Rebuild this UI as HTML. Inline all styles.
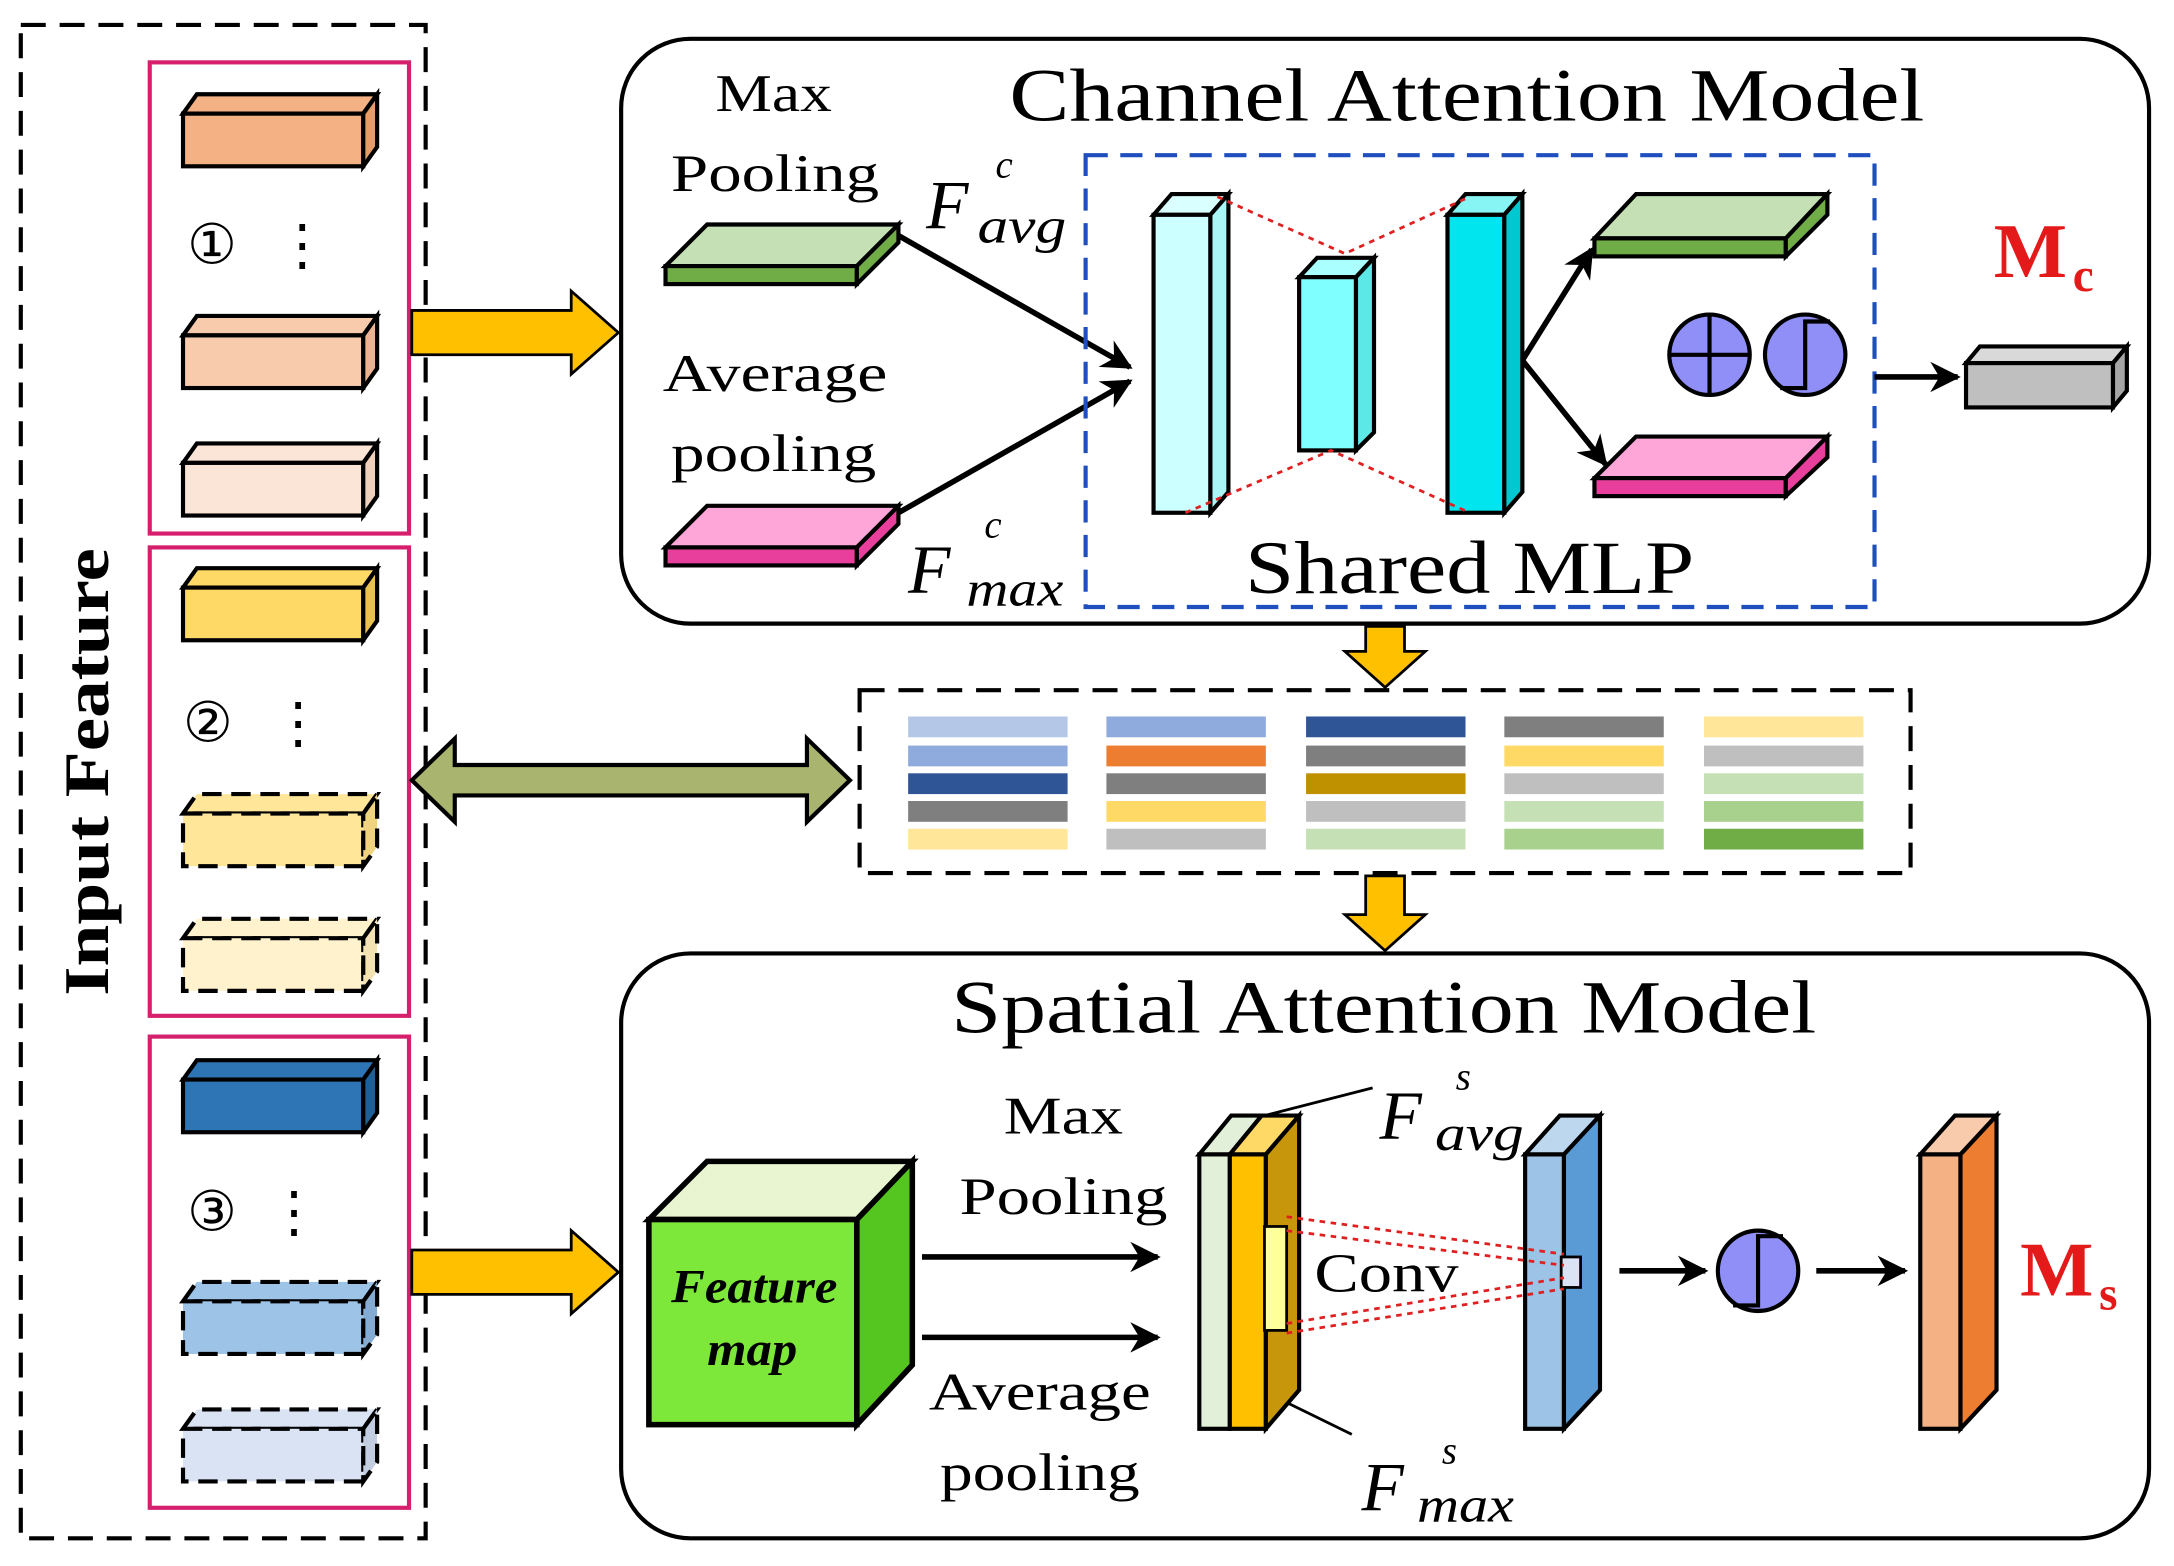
<!DOCTYPE html>
<html><head><meta charset="utf-8"><style>html,body{margin:0;padding:0;background:#fff}svg{display:block}text{font-family:"Liberation Serif","Times New Roman",serif}</style></head><body>
<svg width="2174" height="1566" viewBox="0 0 1568 1130" preserveAspectRatio="none" xmlns="http://www.w3.org/2000/svg">
<defs>
<marker id="ah2" viewBox="0 0 10 10" markerWidth="22" markerHeight="22" refX="9" refY="5" orient="auto" markerUnits="userSpaceOnUse"><path d="M0,0 L10,5 L0,10 L3,5 z" fill="#000"/></marker>
</defs>
<rect width="1568" height="1130" fill="#fff"/>
<rect x="15" y="18" width="292" height="1092" fill="none" stroke="#000" stroke-width="3" stroke-dasharray="18,10"/>
<text transform="translate(78,557) rotate(-90)" text-anchor="middle" font-size="46" font-weight="bold" textLength="323" lengthAdjust="spacingAndGlyphs">Input Feature</text>
<g fill="none" stroke="#d6206e" stroke-width="3">
<rect x="108" y="45" width="187" height="340"/><rect x="108" y="395" width="187" height="338"/><rect x="108" y="748" width="187" height="340"/>
</g>
<g stroke="#000" stroke-width="3">
<polygon points="132,82 142,68 272,68 262,82" fill="#f4b183"/><rect x="132" y="82" width="130" height="38" fill="#f4b183"/><polygon points="262,82 272,68 272,106 262,120" fill="#e59b6a"/>
<polygon points="132,242 142,228 272,228 262,242" fill="#f8cbad"/><rect x="132" y="242" width="130" height="38" fill="#f8cbad"/><polygon points="262,242 272,228 272,266 262,280" fill="#eab493"/>
<polygon points="132,334 142,320 272,320 262,334" fill="#fbe5d6"/><rect x="132" y="334" width="130" height="38" fill="#fbe5d6"/><polygon points="262,334 272,320 272,358 262,372" fill="#efd0bd"/>
<polygon points="132,424 142,410 272,410 262,424" fill="#ffd966"/><rect x="132" y="424" width="130" height="38" fill="#ffd966"/><polygon points="262,424 272,410 272,448 262,462" fill="#e8c14f"/>
<g stroke-dasharray="14,7"><polygon points="132,587 142,573 272,573 262,587" fill="#ffe699"/><rect x="132" y="587" width="130" height="38" fill="#ffe699"/><polygon points="262,587 272,573 272,611 262,625" fill="#f0d37e"/>
<polygon points="132,677 142,663 272,663 262,677" fill="#fff2cc"/><rect x="132" y="677" width="130" height="38" fill="#fff2cc"/><polygon points="262,677 272,663 272,701 262,715" fill="#f3e2b2"/></g>
<polygon points="132,779 142,765 272,765 262,779" fill="#2e75b6"/><rect x="132" y="779" width="130" height="38" fill="#2e75b6"/><polygon points="262,779 272,765 272,803 262,817" fill="#1f5f98"/>
<g stroke-dasharray="14,7"><polygon points="132,939 142,925 272,925 262,939" fill="#9dc3e6"/><rect x="132" y="939" width="130" height="38" fill="#9dc3e6"/><polygon points="262,939 272,925 272,963 262,977" fill="#84acd2"/>
<polygon points="132,1031 142,1017 272,1017 262,1031" fill="#dae3f3"/><rect x="132" y="1031" width="130" height="38" fill="#dae3f3"/><polygon points="262,1031 272,1017 272,1055 262,1069" fill="#c2cde2"/></g>
</g>
<text x="135" y="190" font-size="40">①</text><text x="198" y="190" font-size="40">⋮</text>
<text x="132" y="535" font-size="40">②</text><text x="195" y="535" font-size="40">⋮</text>
<text x="135" y="888" font-size="40">③</text><text x="192" y="888" font-size="40">⋮</text>
<g fill="#ffc000" stroke="#000" stroke-width="2">
<polygon points="297,224 412,224 412,210 446,240 412,270 412,256 297,256"/>
<polygon points="297,902 412,902 412,888 446,918 412,948 412,934 297,934"/>
<polygon points="985,452 1013,452 1013,470 1028,470 999,496 970,470 985,470"/>
<polygon points="985,632 1013,632 1013,660 1028,660 999,686 970,660 985,660"/>
</g>
<polygon points="297,563 328,533 328,552 582,552 582,533 613,563 582,593 582,574 328,574 328,593" fill="#a9b56e" stroke="#000" stroke-width="3"/>
<rect x="448" y="28" width="1102" height="422" rx="50" fill="none" stroke="#000" stroke-width="3"/>
<text x="728" y="87" font-size="54" textLength="660" lengthAdjust="spacingAndGlyphs">Channel Attention Model</text>
<text x="516" y="80" font-size="38" textLength="84" lengthAdjust="spacingAndGlyphs">Max</text>
<text x="484" y="138" font-size="38" textLength="150" lengthAdjust="spacingAndGlyphs">Pooling</text>
<text x="478" y="282" font-size="38" textLength="162" lengthAdjust="spacingAndGlyphs">Average</text>
<text x="484" y="340" font-size="38" textLength="148" lengthAdjust="spacingAndGlyphs">pooling</text>
<g stroke="#000" stroke-width="3">
<polygon points="480,192 510,162 648,162 618,192" fill="#c5e0b4"/>
<rect x="480" y="192" width="138" height="13" fill="#70ad47"/>
<polygon points="618,192 648,162 648,175 618,205" fill="#70ad47"/>
<polygon points="480,395 510,365 648,365 618,395" fill="#ffa6d9"/>
<rect x="480" y="395" width="138" height="13" fill="#e83e9c"/>
<polygon points="618,395 648,365 648,378 618,408" fill="#e83e9c"/>
</g>
<text x="668" y="165" font-size="50" font-style="italic">F</text><text x="718" y="128" font-size="28" font-style="italic">c</text><text x="705" y="175" font-size="36" font-style="italic" textLength="64" lengthAdjust="spacingAndGlyphs">avg</text>
<text x="655" y="428" font-size="50" font-style="italic">F</text><text x="710" y="388" font-size="28" font-style="italic">c</text><text x="697" y="437" font-size="36" font-style="italic" textLength="70" lengthAdjust="spacingAndGlyphs">max</text>
<line x1="648" y1="170" x2="815" y2="265" stroke="#000" stroke-width="4" marker-end="url(#ah2)"/>
<line x1="648" y1="370" x2="815" y2="275" stroke="#000" stroke-width="4" marker-end="url(#ah2)"/>
<rect x="783" y="112" width="569" height="326" fill="none" stroke="#1f4fbf" stroke-width="3" stroke-dasharray="16,9"/>
<text x="898" y="428" font-size="54" textLength="324" lengthAdjust="spacingAndGlyphs">Shared MLP</text>
<g stroke="#000" stroke-width="3">
<polygon points="832,155 845,140 886,140 873,155" fill="#d9ffff"/><rect x="832" y="155" width="41" height="215" fill="#ccffff"/><polygon points="873,155 886,140 886,355 873,370" fill="#aaf5f5"/>
<polygon points="937,200 950,186 991,186 978,200" fill="#aaffff"/><rect x="937" y="200" width="41" height="125" fill="#7fffff"/><polygon points="978,200 991,186 991,312 978,325" fill="#5de8e8"/>
<polygon points="1044,155 1057,140 1098,140 1085,155" fill="#88f5f5"/><rect x="1044" y="155" width="41" height="215" fill="#00e5ee"/><polygon points="1085,155 1098,140 1098,355 1085,370" fill="#00c8d0"/>
</g>
<g stroke="#e02020" stroke-width="2" stroke-dasharray="4,4" fill="none">
<polyline points="878,142 970,183 1060,142"/><polyline points="855,370 960,325 1060,370"/>
</g>
<line x1="1098" y1="260" x2="1148" y2="180" stroke="#000" stroke-width="4" marker-end="url(#ah2)"/>
<line x1="1098" y1="260" x2="1158" y2="335" stroke="#000" stroke-width="4" marker-end="url(#ah2)"/>
<g stroke="#000" stroke-width="3">
<polygon points="1150,172 1180,140 1318,140 1288,172" fill="#c5e0b4"/><rect x="1150" y="172" width="138" height="13" fill="#70ad47"/><polygon points="1288,172 1318,140 1318,155 1288,185" fill="#70ad47"/>
<polygon points="1150,345 1180,315 1318,315 1288,345" fill="#ffa6d9"/><rect x="1150" y="345" width="138" height="13" fill="#e83e9c"/><polygon points="1288,345 1318,315 1318,330 1288,358" fill="#e83e9c"/>
<circle cx="1233" cy="256" r="29" fill="#8f8ff7"/><line x1="1204" y1="256" x2="1262" y2="256"/><line x1="1233" y1="227" x2="1233" y2="285"/>
<circle cx="1302" cy="256" r="29" fill="#8f8ff7"/><polyline points="1284,280 1302,280 1302,232 1320,232" fill="none"/>
</g>
<line x1="1352" y1="272" x2="1412" y2="272" stroke="#000" stroke-width="4" marker-end="url(#ah2)"/>
<g stroke="#000" stroke-width="3"><polygon points="1418,262 1428,250 1534,250 1524,262" fill="#d9d9d9"/><rect x="1418" y="262" width="106" height="32" fill="#bfbfbf"/><polygon points="1524,262 1534,250 1534,282 1524,294" fill="#a6a6a6"/></g>
<text x="1438" y="200" font-size="56" font-weight="bold" fill="#e41a1a">M</text><text x="1495" y="210" font-size="34" font-weight="bold" fill="#e41a1a">c</text>
<rect x="620" y="498" width="758" height="132" fill="none" stroke="#000" stroke-width="3" stroke-dasharray="18,10"/>
<g>
<rect x="655" y="517" width="115" height="15" fill="#b4c7e7"/><rect x="655" y="538" width="115" height="15" fill="#8faadc"/><rect x="655" y="558" width="115" height="15" fill="#2f5597"/><rect x="655" y="578" width="115" height="15" fill="#7f7f7f"/><rect x="655" y="598" width="115" height="15" fill="#ffe699"/>
<rect x="798" y="517" width="115" height="15" fill="#8faadc"/><rect x="798" y="538" width="115" height="15" fill="#ed7d31"/><rect x="798" y="558" width="115" height="15" fill="#7f7f7f"/><rect x="798" y="578" width="115" height="15" fill="#ffd966"/><rect x="798" y="598" width="115" height="15" fill="#bfbfbf"/>
<rect x="942" y="517" width="115" height="15" fill="#2f5597"/><rect x="942" y="538" width="115" height="15" fill="#7f7f7f"/><rect x="942" y="558" width="115" height="15" fill="#bf9000"/><rect x="942" y="578" width="115" height="15" fill="#bfbfbf"/><rect x="942" y="598" width="115" height="15" fill="#c5e0b4"/>
<rect x="1085" y="517" width="115" height="15" fill="#7f7f7f"/><rect x="1085" y="538" width="115" height="15" fill="#ffd966"/><rect x="1085" y="558" width="115" height="15" fill="#bfbfbf"/><rect x="1085" y="578" width="115" height="15" fill="#c5e0b4"/><rect x="1085" y="598" width="115" height="15" fill="#a9d18e"/>
<rect x="1229" y="517" width="115" height="15" fill="#ffe699"/><rect x="1229" y="538" width="115" height="15" fill="#bfbfbf"/><rect x="1229" y="558" width="115" height="15" fill="#c5e0b4"/><rect x="1229" y="578" width="115" height="15" fill="#a9d18e"/><rect x="1229" y="598" width="115" height="15" fill="#70ad47"/>
</g>
<rect x="448" y="688" width="1102" height="422" rx="50" fill="none" stroke="#000" stroke-width="3"/>
<text x="686" y="745" font-size="54" textLength="624" lengthAdjust="spacingAndGlyphs">Spatial Attention Model</text>
<g stroke="#000" stroke-width="4">
<polygon points="468,880 510,838 658,838 618,880" fill="#e8f5d0"/>
<rect x="468" y="880" width="150" height="148" fill="#7ee83a"/>
<polygon points="618,880 658,838 658,985 618,1028" fill="#55c520"/>
</g>
<text x="484" y="940" font-size="34" font-weight="bold" font-style="italic" textLength="120" lengthAdjust="spacingAndGlyphs">Feature</text>
<text x="510" y="985" font-size="34" font-weight="bold" font-style="italic" textLength="65" lengthAdjust="spacingAndGlyphs">map</text>
<text x="724" y="818" font-size="38" textLength="86" lengthAdjust="spacingAndGlyphs">Max</text>
<text x="692" y="876" font-size="38" textLength="150" lengthAdjust="spacingAndGlyphs">Pooling</text>
<text x="670" y="1017" font-size="38" textLength="160" lengthAdjust="spacingAndGlyphs">Average</text>
<text x="678" y="1075" font-size="38" textLength="144" lengthAdjust="spacingAndGlyphs">pooling</text>
<line x1="665" y1="907" x2="835" y2="907" stroke="#000" stroke-width="4" marker-end="url(#ah2)"/>
<line x1="665" y1="965" x2="835" y2="965" stroke="#000" stroke-width="4" marker-end="url(#ah2)"/>
<g stroke="#000" stroke-width="3">
<polygon points="865,833 888,805 910,805 887,833" fill="#e2f0d9"/><rect x="865" y="833" width="22" height="198" fill="#e2f0d9"/>
<polygon points="887,833 910,805 937,805 913,833" fill="#ffd966"/><rect x="887" y="833" width="26" height="198" fill="#ffc000"/>
<polygon points="913,833 937,805 937,1003 913,1031" fill="#c8960a"/>
<rect x="912" y="885" width="16" height="75" fill="#ffff99" stroke-width="2"/>
<polygon points="1100,833 1125,805 1154,805 1128,833" fill="#bdd7ee"/><rect x="1100" y="833" width="28" height="198" fill="#9dc3e6"/><polygon points="1128,833 1154,805 1154,1003 1128,1031" fill="#5b9bd5"/>
<rect x="1126" y="907" width="14" height="22" fill="#dae3f3" stroke-width="2"/>
<polygon points="1385,833 1410,805 1440,805 1414,833" fill="#f8cbad"/><rect x="1385" y="833" width="29" height="198" fill="#f4b183"/><polygon points="1414,833 1440,805 1440,1003 1414,1031" fill="#ed7d31"/>
</g>
<g stroke="#e02020" stroke-width="2" stroke-dasharray="4,4"><line x1="928" y1="878" x2="1128" y2="905"/><line x1="928" y1="888" x2="1128" y2="913"/><line x1="928" y1="955" x2="1128" y2="922"/><line x1="928" y1="962" x2="1128" y2="930"/></g>
<text x="948" y="932" font-size="40" textLength="104" lengthAdjust="spacingAndGlyphs">Conv</text>
<line x1="912" y1="805" x2="990" y2="785" stroke="#000" stroke-width="2"/>
<line x1="928" y1="1012" x2="975" y2="1035" stroke="#000" stroke-width="2"/>
<text x="995" y="822" font-size="50" font-style="italic">F</text><text x="1050" y="786" font-size="28" font-style="italic">s</text><text x="1035" y="830" font-size="36" font-style="italic" textLength="64" lengthAdjust="spacingAndGlyphs">avg</text>
<text x="982" y="1090" font-size="50" font-style="italic">F</text><text x="1040" y="1056" font-size="28" font-style="italic">s</text><text x="1022" y="1098" font-size="36" font-style="italic" textLength="70" lengthAdjust="spacingAndGlyphs">max</text>
<line x1="1168" y1="917" x2="1230" y2="917" stroke="#000" stroke-width="4" marker-end="url(#ah2)"/>
<g stroke="#000" stroke-width="3"><circle cx="1268" cy="917" r="29" fill="#8f8ff7"/><polyline points="1250,942 1268,942 1268,892 1286,892" fill="none"/></g>
<line x1="1310" y1="917" x2="1374" y2="917" stroke="#000" stroke-width="4" marker-end="url(#ah2)"/>
<text x="1457" y="935" font-size="56" font-weight="bold" fill="#e41a1a">M</text><text x="1514" y="945" font-size="34" font-weight="bold" fill="#e41a1a">s</text>
</svg>
</body></html>
